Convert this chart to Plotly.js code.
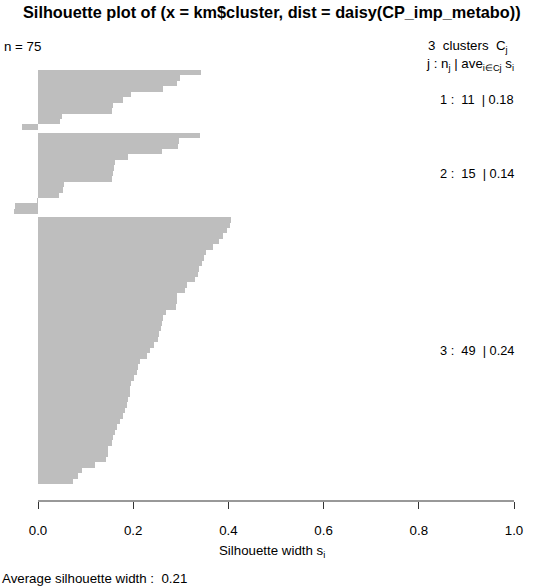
<!DOCTYPE html>
<html>
<head>
<meta charset="utf-8">
<script src="https://cdn.plot.ly/plotly-3.0.1.min.js"></script>
<style>html,body{margin:0;padding:0;background:#fff;}#chart{width:544px;height:586px;}</style>
</head>
<body>
<div id="chart"></div>
<script>
// Silhouette widths, sorted within each cluster (top to bottom)
var cluster1 = [0.342, 0.298, 0.293, 0.262, 0.195, 0.178, 0.158, 0.155, 0.050, 0.047, -0.034];
var cluster2 = [0.340, 0.297, 0.295, 0.260, 0.190, 0.162, 0.160, 0.157, 0.155, 0.054, 0.052, 0.045, -0.003, -0.048, -0.050];
var cluster3 = [0.405, 0.404, 0.398, 0.389, 0.380, 0.367, 0.352, 0.349, 0.345, 0.338,
                0.336, 0.329, 0.312, 0.308, 0.293, 0.291, 0.290, 0.269, 0.263, 0.261,
                0.258, 0.255, 0.253, 0.244, 0.235, 0.228, 0.214, 0.210, 0.209, 0.202,
                0.196, 0.194, 0.193, 0.190, 0.186, 0.183, 0.179, 0.172, 0.165, 0.162,
                0.158, 0.155, 0.148, 0.146, 0.143, 0.120, 0.092, 0.083, 0.073];
var clusters = [cluster1, cluster2, cluster3];
var xTicks = [0, 0.2, 0.4, 0.6, 0.8, 1.0];
var titleText = "Silhouette plot of (x = km$cluster, dist = daisy(CP_imp_metabo))";

var FONT = "Liberation Sans, Arial, sans-serif";
var FS = 13.3;
var GAP = 0.5;

var ys = [], xs = [], centers = [];
var pos = 0, total = 0, nAll = 0;
clusters.forEach(function(c, k){
  if (k > 0) pos += GAP;
  var start = pos;
  c.forEach(function(v){ ys.push(pos + 0.5); xs.push(v); pos += 1; total += v; nAll++; });
  centers.push((start + pos) / 2);
});
var yEnd = pos;

function mean(a){ return a.reduce(function(s,v){return s+v;},0)/a.length; }

var trace = {
  type: 'bar', orientation: 'h', x: xs, y: ys, width: 1, base: 0,
  marker: {color: '#bebebe', line: {width: 0}},
  hoverinfo: 'x'
};

function ann(o){
  var a = {showarrow: false, font: {family: FONT, size: FS, color: '#000'}, yanchor: 'middle'};
  for (var k in o) a[k] = o[k];
  return a;
}

var annotations = [];
annotations.push(ann({text: '<b>' + titleText + '</b>', xref: 'paper', yref: 'paper', x: 0.5, y: 1, yshift: 48,
  font: {family: FONT, size: 16.3, color: '#000'}, xanchor: 'center'}));
annotations.push(ann({text: 'n = ' + nAll, xref: 'paper', yref: 'paper', x: 0, xshift: -8, y: 1, yshift: 14, xanchor: 'left'}));
annotations.push(ann({text: clusters.length + '  clusters  C<sub>j</sub>', xref: 'x', yref: 'paper', x: 1, xshift: -4, y: 1, yshift: 14, xanchor: 'right'}));
annotations.push(ann({text: 'j : n<sub>j</sub> | ave<sub>i\u2208Cj</sub> s<sub>i</sub>', xref: 'x', yref: 'paper', x: 1, xshift: 2, y: 1, yshift: -4, xanchor: 'right'}));
clusters.forEach(function(c, k){
  annotations.push(ann({text: (k+1) + ' :  ' + c.length + '  | ' + mean(c).toFixed(2), xref: 'x', yref: 'y',
    x: 1, xshift: 2, y: centers[k], xanchor: 'right', font: {family: FONT, size: 12.8, color: '#000'}}));
});
annotations.push(ann({text: 'Silhouette width s<sub>i</sub>', xref: 'paper', yref: 'paper', x: 0.5, y: 0, yshift: -50, xanchor: 'center'}));
annotations.push(ann({text: 'Average silhouette width :  ' + (total / nAll).toFixed(2), xref: 'paper', yref: 'paper', x: 0, xshift: -10, y: 0, yshift: -77, xanchor: 'left'}));

var unitPx = 414 / yEnd;
var layout = {
  width: 544, height: 586,
  margin: {l: 10, r: 10, t: 60, b: 85, pad: 0},
  paper_bgcolor: '#fff', plot_bgcolor: '#fff',
  showlegend: false,
  bargap: 0,
  xaxis: {
    range: [-28/476, -28/476 + 524/476],
    tickvals: xTicks, ticktext: xTicks.map(function(v){return v.toFixed(1);}),
    ticks: 'outside', ticklen: 7, tickwidth: 1, tickcolor: '#333',
    ticklabelstandoff: 10,
    showline: false, showgrid: false, zeroline: false,
    tickfont: {family: FONT, size: FS, color: '#000'}
  },
  yaxis: {
    range: [yEnd + 17/unitPx, -10/unitPx], showticklabels: false, showgrid: false, zeroline: false, showline: false, ticks: ''
  },
  shapes: [{type: 'line', xref: 'x', yref: 'paper', x0: xTicks[0], x1: xTicks[xTicks.length-1], y0: 0, y1: 0,
    line: {color: '#333', width: 1}}],
  annotations: annotations
};

Plotly.newPlot('chart', [trace], layout, {staticPlot: true, displayModeBar: false});
</script>
</body>
</html>
